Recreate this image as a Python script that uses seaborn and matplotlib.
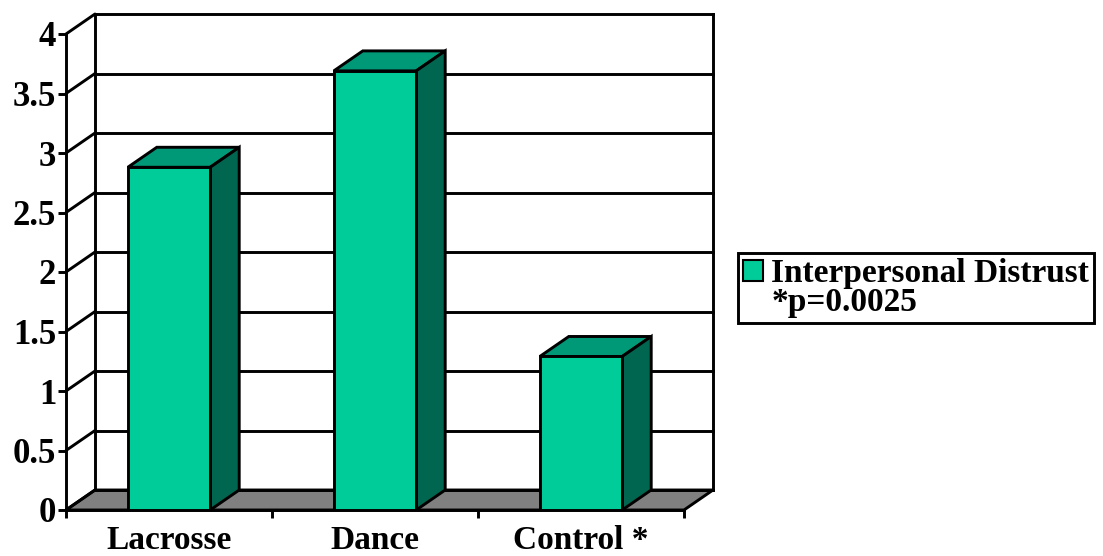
import matplotlib
matplotlib.use("Agg")
import matplotlib.pyplot as plt
import seaborn as sns
import pandas as pd
from matplotlib.patches import Polygon, Patch

categories = ["Lacrosse", "Dance", "Control *"]
values = [2.88, 3.69, 1.29]
series_label = "Interpersonal Distrust"
note_label = "*p=0.0025"
yticks = [0, 0.5, 1, 1.5, 2, 2.5, 3, 3.5, 4]
ytick_labels = ["0", "0.5", "1", "1.5", "2", "2.5", "3", "3.5", "4"]

sns.set_theme(style="white")
plt.rcParams['font.family'] = ['Liberation Serif', 'DejaVu Serif']
plt.rcParams['font.weight'] = 'bold'
plt.rcParams['text.color'] = 'black'

front_c = "#00CC99"
top_c = "#009977"
side_c = "#006650"
floor_c = "#808080"
lw = 2.1

W, H = 1103, 556
fig = plt.figure(figsize=(W / 100, H / 100), dpi=100)
ax = fig.add_axes([66 / W, 46 / H, 647 / W, 496 / H])

df = pd.DataFrame({"group": categories, "value": values})
sns.barplot(data=df, x="group", y="value", color=front_c, width=0.4,
            saturation=1, edgecolor="black", linewidth=lw, ax=ax, zorder=5)

# depth offsets (data units)
dx = 29 / 206
dy = 20 / 119
x0, x1 = -0.5, 2.5
ax.set_xlim(x0, x1 + dx)
ax.set_ylim(0, 4 + dy)

# floor
ax.add_patch(Polygon([(x0, 0), (x1, 0), (x1 + dx, dy), (x0 + dx, dy)],
                     closed=True, facecolor=floor_c, edgecolor="black",
                     linewidth=lw, zorder=1, clip_on=False))
# walls / gridlines
for y in yticks:
    ax.plot([x0 + dx, x1 + dx], [y + dy, y + dy], color="black", lw=lw,
            zorder=2, clip_on=False, solid_capstyle="projecting")
    ax.plot([x0, x0 + dx], [y, y + dy], color="black", lw=lw, zorder=2,
            clip_on=False)
for xv in (x0 + dx, x1 + dx):
    ax.plot([xv, xv], [dy, 4 + dy], color="black", lw=lw, zorder=2,
            clip_on=False, solid_capstyle="projecting")

# 3D faces of bars
for p in list(ax.patches):
    if not hasattr(p, "get_width"):
        continue
    bx, bw, bh = p.get_x(), p.get_width(), p.get_height()
    if bh <= 0 or bw > 1:
        continue
    bx1 = bx + bw
    ax.add_patch(Polygon([(bx, bh), (bx1, bh), (bx1 + dx, bh + dy), (bx + dx, bh + dy)],
                         closed=True, facecolor=top_c, edgecolor="black",
                         linewidth=lw, zorder=4, joinstyle="miter"))
    ax.add_patch(Polygon([(bx1, 0), (bx1 + dx, dy), (bx1 + dx, bh + dy), (bx1, bh)],
                         closed=True, facecolor=side_c, edgecolor="black",
                         linewidth=lw, zorder=4, joinstyle="miter"))

for s in ("top", "right"):
    ax.spines[s].set_visible(False)
for s in ("left", "bottom"):
    ax.spines[s].set_color("black")
    ax.spines[s].set_linewidth(lw)
    ax.spines[s].set_zorder(3)
ax.spines["left"].set_bounds(0, 4)
ax.spines["bottom"].set_bounds(x0, x1)

ax.set_xlabel("")
ax.set_ylabel("")
ax.set_yticks(yticks, ytick_labels)
ax.set_xticks([x0, 0.5, 1.5, x1], ["", "", "", ""])
ax.set_xticks([0, 1, 2], categories, minor=True)
ax.tick_params(axis="y", which="major", length=6, width=lw, direction="out",
               labelsize=25, pad=1, color="black", left=True, labelcolor="black")
ax.tick_params(axis="x", which="major", length=6, width=lw, direction="out",
               color="black", bottom=True)
ax.tick_params(axis="x", which="minor", length=0, labelsize=24, pad=11,
               bottom=True, labelcolor="black")
for t in ax.get_xticklabels(minor=True) + ax.get_yticklabels():
    t.set_fontweight("bold")
    t.set_color("black")

handles = [Patch(facecolor=front_c, edgecolor="black", linewidth=1.5),
           Patch(facecolor="none", edgecolor="none")]
leg = fig.legend(handles, [series_label, note_label], loc="upper left",
                 bbox_to_anchor=(738 / W, 1 - 253 / H), frameon=True,
                 fancybox=False, edgecolor="black", framealpha=1,
                 labelcolor="black",
                 prop={"family": "Liberation Serif", "weight": "bold", "size": 24},
                 handlelength=0.6, handleheight=0.6, handletextpad=0.25,
                 borderpad=0.15, labelspacing=-0.05, borderaxespad=0)
leg.get_frame().set_linewidth(lw)

fig.savefig("out.png", dpi=100)
